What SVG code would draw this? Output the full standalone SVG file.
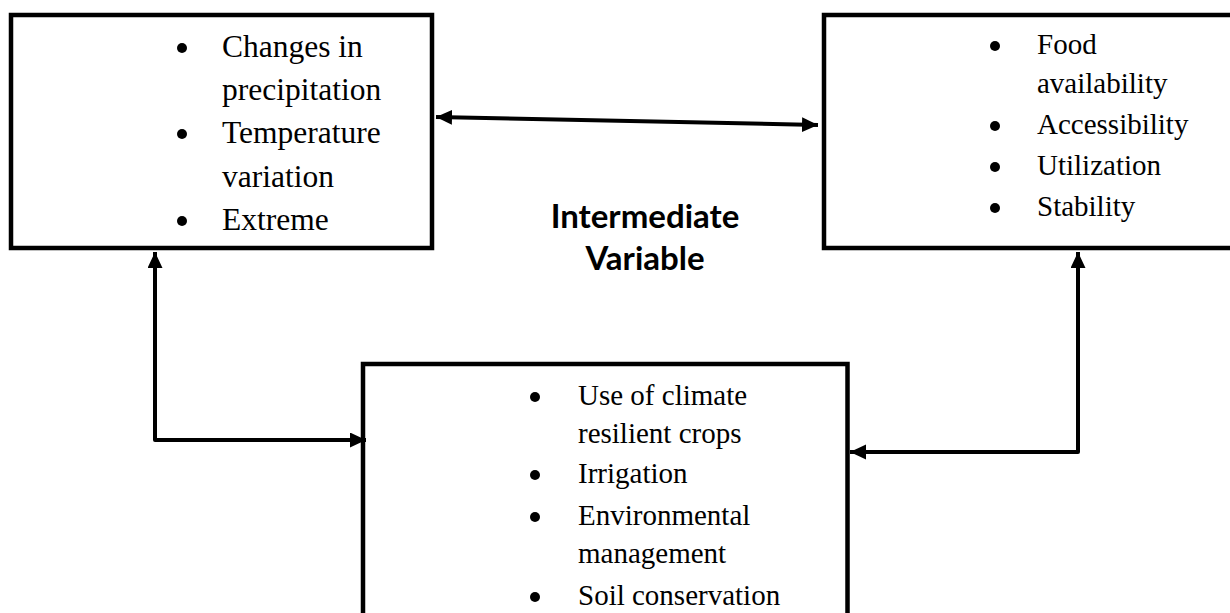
<svg xmlns="http://www.w3.org/2000/svg" width="1230" height="613" viewBox="0 0 1230 613">
<style>
.box{fill:#fff;stroke:#000;stroke-width:4.5}
.t{font-family:"Liberation Serif","Times New Roman",serif;fill:#000}
.l{font-size:31.5px}
.s{font-size:29px}
.b{fill:#000}
.c{fill:none;stroke:#000;stroke-width:4;stroke-linejoin:round}
.h{font-family:Lato,"Open Sans",sans-serif;font-weight:700;font-size:33px;fill:#000;text-anchor:middle}
</style>
<defs>
<marker id="ah" markerUnits="userSpaceOnUse" markerWidth="17" markerHeight="16" refX="16" refY="7.5" orient="auto-start-reverse">
<path d="M0,0 L16,7.5 L0,15 z" fill="#000"/>
</marker>
</defs>
<rect width="1230" height="613" fill="#fff"/>
<g id="climate">
<rect class="box" x="11" y="15" width="421" height="233"/>
<circle class="b" cx="182" cy="48" r="5"/>
<circle class="b" cx="182" cy="134" r="5"/>
<circle class="b" cx="182" cy="221" r="5"/>
<text class="t l" x="222" y="57">Changes in</text>
<text class="t l" x="222" y="100">precipitation</text>
<text class="t l" x="222" y="143">Temperature</text>
<text class="t l" x="222" y="187">variation</text>
<text class="t l" x="222" y="230">Extreme</text>
</g>
<g id="food">
<rect class="box" x="824" y="15" width="450" height="233"/>
<circle class="b" cx="995" cy="46" r="5"/>
<circle class="b" cx="995" cy="126" r="5"/>
<circle class="b" cx="995" cy="167" r="5"/>
<circle class="b" cx="995" cy="208" r="5"/>
<text class="t s" x="1037" y="54">Food</text>
<text class="t s" x="1037" y="93">availability</text>
<text class="t s" x="1037" y="134">Accessibility</text>
<text class="t s" x="1037" y="175">Utilization</text>
<text class="t s" x="1037" y="216">Stability</text>
</g>
<g id="intermediate">
<text class="h" x="645" y="228">Intermediate</text>
<text class="h" x="645" y="270">Variable</text>
</g>
<g id="adaptation">
<rect class="box" x="363" y="364" width="484.5" height="300"/>
<circle class="b" cx="535" cy="397" r="5"/>
<circle class="b" cx="535" cy="475" r="5"/>
<circle class="b" cx="535" cy="517" r="5"/>
<circle class="b" cx="535" cy="597" r="5"/>
<text class="t s" x="578" y="405">Use of climate</text>
<text class="t s" x="578" y="443">resilient crops</text>
<text class="t s" x="578" y="483">Irrigation</text>
<text class="t s" x="578" y="525">Environmental</text>
<text class="t s" x="578" y="563">management</text>
<text class="t s" x="578" y="605">Soil conservation</text>
</g>
<g id="connectors">
<path class="c" d="M436,117 L818,125" marker-start="url(#ah)" marker-end="url(#ah)"/>
<path class="c" d="M155,252 L155,440 L366,440" marker-start="url(#ah)" marker-end="url(#ah)"/>
<path class="c" d="M1078,252 L1078,452 L850,452" marker-start="url(#ah)" marker-end="url(#ah)"/>
</g>
</svg>
